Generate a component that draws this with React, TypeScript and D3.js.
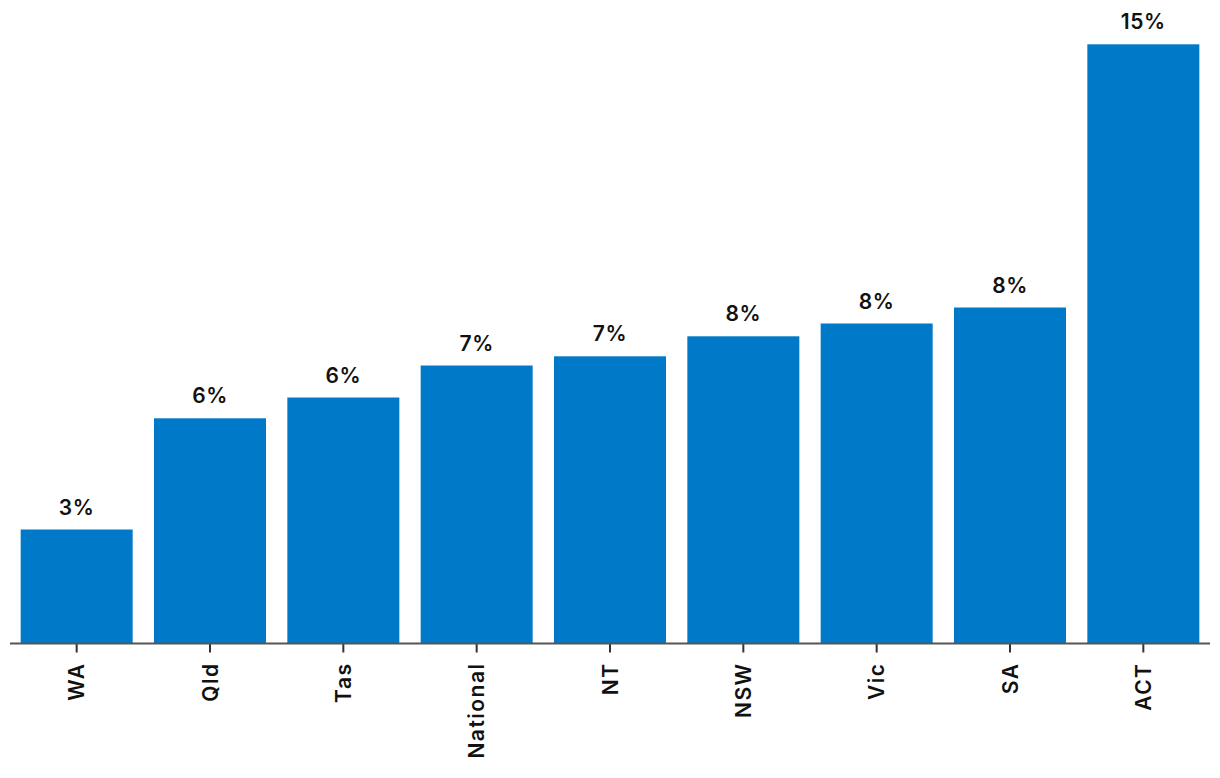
import React from "react";
import * as d3 from "d3";

const categories = ["WA", "Qld", "Tas", "National", "NT", "NSW", "Vic", "SA", "ACT"];
const values = [2.85, 5.63, 6.15, 6.95, 7.18, 7.68, 8.0, 8.4, 14.98];
const labels = ["3%", "6%", "6%", "7%", "7%", "8%", "8%", "8%", "15%"];

const W = 1220, H = 778;
const left = 10, right = 1210, base = 643.5;

export default function App() {
  const x = d3.scaleBand<string>().domain(categories).range([left, right]).paddingInner(0.16).paddingOuter(0.08);
  const y = d3.scaleLinear().domain([0, 15]).range([base, base - 600]);
  const font = "Inter, 'Open Sans', sans-serif";
  return (
    <svg width={W} height={H} style={{ position: "absolute", left: 0, top: 0, background: "#fff" }}>
      {categories.map((c, i) => (
        <g key={c}>
          <rect x={x(c)} y={y(values[i])} width={x.bandwidth()} height={base - y(values[i])} fill="#0079C8" />
          <text x={(x(c) as number) + x.bandwidth() / 2} y={y(values[i]) - 15} textAnchor="middle"
            fontFamily={font} fontSize={21} fontWeight={600} letterSpacing={0.6} fill="#111">{labels[i]}</text>
          <line x1={(x(c) as number) + x.bandwidth() / 2} x2={(x(c) as number) + x.bandwidth() / 2} y1={base} y2={base + 9} stroke="#333" strokeWidth={2} />
          <text transform={`translate(${(x(c) as number) + x.bandwidth() / 2 + 7.5},${base + 19}) rotate(-90)`}
            textAnchor="end" fontFamily={font} fontSize={21} fontWeight={600} letterSpacing={1.5} fill="#111">{c}</text>
        </g>
      ))}
      <line x1={left} x2={right} y1={base} y2={base} stroke="#555" strokeWidth={2} />
    </svg>
  );
}
